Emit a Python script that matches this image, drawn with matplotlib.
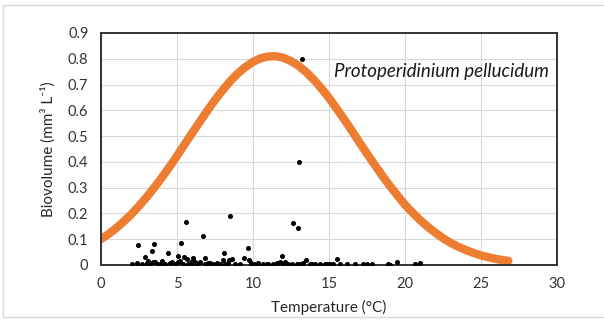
import numpy as np
import matplotlib.pyplot as plt
from matplotlib.patches import Rectangle

# fitted curve (temperature, biovolume)
curve_t = [0, 0.5, 1, 1.5, 2, 2.5, 3, 3.5, 4, 4.5, 5, 5.5, 6, 6.5, 7, 7.5,
           8, 8.5, 9, 9.5, 10, 10.5, 11, 11.5, 12, 12.5, 13, 13.5, 14, 14.5,
           15, 15.5, 16, 16.5, 17, 17.5, 18, 18.5, 19, 19.5, 20, 20.5, 21,
           21.5, 22, 22.5, 23, 23.5, 24, 24.5, 25, 25.5, 26, 26.5, 26.8]
curve_v = [0.101, 0.120, 0.143, 0.169, 0.197, 0.229, 0.263, 0.300, 0.339,
           0.380, 0.423, 0.468, 0.512, 0.556, 0.599, 0.640, 0.678, 0.713,
           0.743, 0.768, 0.788, 0.802, 0.809, 0.810, 0.804, 0.791, 0.773,
           0.748, 0.719, 0.685, 0.648, 0.607, 0.565, 0.521, 0.476, 0.432,
           0.389, 0.347, 0.307, 0.270, 0.234, 0.203, 0.174, 0.148, 0.125,
           0.104, 0.086, 0.071, 0.058, 0.047, 0.037, 0.030, 0.023, 0.0186,
           0.016]

# observations
obs_t = [13.2, 13.0, 2.46, 3.49, 3.33, 2.89, 4.43, 5.26, 5.57, 6.69, 8.46,
         8.07, 9.69, 11.93, 12.65, 12.96, 13.5, 15.5, 19.5, 21.0, 5.09, 5.48,
         5.63, 6.07, 6.84, 8.0, 9.43, 9.74, 8.6, 8.42, 11.8, 12.1,
         2.02, 2.35, 2.68, 3.0, 3.22, 3.55, 3.77, 3.99, 4.21, 4.54, 4.87,
         5.04, 5.42, 5.75, 5.96, 6.3, 6.51, 6.84, 7.06, 7.39, 7.61, 7.83,
         8.16, 8.38, 8.82, 9.14, 10.13, 10.35, 10.68, 11.0, 11.34, 11.56,
         12.32, 12.55, 12.87, 13.09, 13.31, 13.75, 14.08, 14.41, 14.74,
         14.85, 15.07, 15.28, 15.72, 16.16, 16.71, 17.26, 17.48, 17.81,
         18.9, 19.0, 20.66, 3.1, 3.4, 4.0, 4.7, 5.2, 5.9, 6.2, 7.2, 9.9,
         10.9, 12.0, 13.9]
obs_v = [0.80, 0.40, 0.078, 0.080, 0.054, 0.032, 0.045, 0.085, 0.167, 0.114,
         0.190, 0.045, 0.065, 0.035, 0.163, 0.142, 0.019, 0.023, 0.013, 0.007,
         0.036, 0.032, 0.023, 0.028, 0.026, 0.019, 0.026, 0.019, 0.023,
         0.019, 0.010, 0.010,
         0.003, 0.006, 0.002, 0.008, 0.004, 0.010, 0.003, 0.007, 0.002,
         0.009, 0.004, 0.012, 0.005, 0.002, 0.008, 0.004, 0.010, 0.003,
         0.006, 0.002, 0.009, 0.004, 0.003, 0.007, 0.005, 0.002, 0.004,
         0.006, 0.003, 0.005, 0.002, 0.006, 0.004, 0.002, 0.005, 0.003,
         0.006, 0.002, 0.004, 0.003, 0.005, 0.002, 0.004, 0.003, 0.002,
         0.005, 0.003, 0.004, 0.002, 0.003, 0.002, 0.000, 0.003, 0.015,
         0.012, 0.015, 0.010, 0.014, 0.012, 0.010, 0.008, 0.006, 0.005,
         0.004, 0.004]

xticks = [0, 5, 10, 15, 20, 25, 30]
yticks = [0, 0.1, 0.2, 0.3, 0.4, 0.5, 0.6, 0.7, 0.8, 0.9]
ytick_labels = ['0', '0.1', '0.2', '0.3', '0.4', '0.5', '0.6', '0.7', '0.8', '0.9']

plt.rcParams['font.family'] = ['Lato', 'DejaVu Sans']

fig = plt.figure(figsize=(6.04, 3.22), dpi=100)
fig.patches.append(Rectangle((3 / 604, 5 / 322), 1.0, 312 / 322,
                             transform=fig.transFigure, fill=False,
                             edgecolor='#d9d9d9', linewidth=1.0))
ax = fig.add_axes([101 / 604, 1 - 265 / 322, 456 / 604, 232 / 322])

ax.plot(curve_t, curve_v, color='#ED7D31', linewidth=6,
        solid_capstyle='round', solid_joinstyle='round', zorder=2)
ax.plot(obs_t, obs_v, 'o', color='black', markersize=2.6, zorder=3)

ax.set_xlim(0, 30)
ax.set_ylim(0, 0.9)
ax.set_xticks(xticks)
ax.set_yticks(yticks)
ax.set_yticklabels(ytick_labels)
ax.grid(True, color='#d9d9d9', linewidth=0.8)
ax.set_axisbelow(True)
ax.tick_params(length=0, labelsize=10.5, colors='#333333', pad=9)
for s in ax.spines.values():
    s.set_color('#333333')
    s.set_linewidth(1.4)

ax.set_xlabel('Temperature (°C)', fontsize=11, color='#262626', labelpad=6)
ax.set_ylabel('Biovolume (mm³ L⁻¹)', fontsize=11, color='#262626', labelpad=9)
ax.text(15.3, 0.75, 'Protoperidinium pellucidum', fontsize=13.5,
        style='italic', color='#1a1a1a', va='center', ha='left')

fig.savefig('out.png', dpi=100)
